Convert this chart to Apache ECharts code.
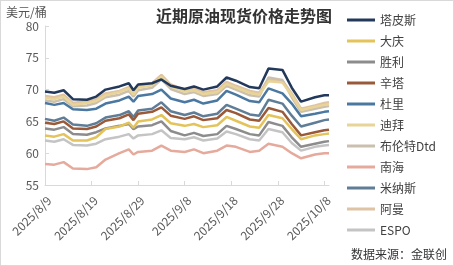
<!DOCTYPE html>
<html>
<head>
<meta charset="utf-8">
<script src="https://cdn.jsdelivr.net/npm/echarts@6/dist/echarts.min.js"></script>
<style>
  html, body { margin: 0; padding: 0; background: #fff; }
  #main { width: 452px; height: 264px; border: 1px solid #d9d9d9; }
</style>
</head>
<body>
<div id="main"></div>
<script>
// sample dates (at turning points)
const dates = ['2025-08-09', '2025-08-11', '2025-08-13', '2025-08-15', '2025-08-18', '2025-08-20', '2025-08-22',
  '2025-08-25', '2025-08-27', '2025-08-28', '2025-08-29', '2025-09-01', '2025-09-03', '2025-09-05', '2025-09-08',
  '2025-09-10', '2025-09-12', '2025-09-15', '2025-09-17', '2025-09-19', '2025-09-22', '2025-09-24', '2025-09-26',
  '2025-09-29', '2025-10-01', '2025-10-03', '2025-10-06', '2025-10-08', '2025-10-09']

const tapis = [69.7, 69.5, 69.9, 68.5, 68.4, 68.9, 70.0, 70.5, 71.0, 69.9, 70.8, 71.0, 71.6, 70.6, 70.1, 70.5, 70.0, 70.5, 71.9, 71.4, 70.4, 70.2, 73.3, 73.1, 70.3, 68.1, 68.8, 69.1, 69.1]
const daqing = [62.8, 62.6, 63.0, 62.0, 62.0, 62.5, 63.8, 64.2, 64.8, 64.0, 65.0, 65.3, 66.0, 64.7, 64.3, 64.6, 64.1, 64.4, 65.7, 65.1, 64.2, 64.0, 66.0, 65.5, 63.8, 62.2, 62.8, 63.0, 63.1]
const shengli = [63.9, 63.7, 64.1, 63.0, 62.9, 63.3, 63.9, 64.3, 64.6, 63.8, 64.2, 64.4, 65.0, 63.5, 62.8, 63.2, 62.7, 63.0, 64.3, 63.8, 63.0, 62.8, 64.9, 64.3, 62.5, 61.0, 61.5, 61.8, 61.9]
const cinta = [64.8, 64.6, 65.0, 63.9, 63.8, 64.2, 65.1, 65.5, 66.1, 65.2, 66.2, 66.5, 67.2, 65.9, 65.4, 65.8, 65.2, 65.5, 66.8, 66.3, 65.3, 65.1, 67.1, 66.5, 64.6, 62.8, 63.3, 63.6, 63.7]
const duri = [67.9, 67.6, 67.9, 66.9, 66.8, 67.0, 67.8, 68.3, 68.9, 68.1, 69.0, 69.3, 70.0, 68.6, 68.0, 68.4, 67.8, 68.3, 69.8, 69.2, 68.2, 68.0, 70.2, 69.4, 67.8, 65.8, 66.2, 66.5, 66.6]
const dubai = [68.7, 68.5, 68.9, 67.6, 67.9, 68.2, 69.1, 69.6, 70.2, 69.2, 70.3, 70.7, 72.0, 70.5, 69.7, 69.9, 69.3, 69.6, 70.9, 70.3, 69.5, 69.2, 71.3, 71.1, 69.1, 66.8, 67.3, 67.6, 67.7]
const brent = [68.3, 68.1, 68.5, 67.4, 67.5, 67.9, 68.8, 69.2, 69.8, 68.9, 69.9, 70.3, 71.6, 70.1, 69.3, 69.6, 69.0, 69.3, 70.6, 70.0, 69.1, 68.9, 71.9, 71.5, 68.8, 66.5, 67.0, 67.3, 67.4]
const nanhai = [58.3, 58.2, 58.6, 57.6, 57.5, 57.8, 59.0, 60.0, 60.6, 59.8, 60.2, 60.4, 61.2, 60.4, 60.2, 60.6, 60.0, 60.4, 61.2, 61.0, 60.2, 60.4, 61.5, 61.0, 60.0, 59.2, 59.8, 60.0, 60.0]
const minas = [65.4, 65.1, 65.6, 64.5, 64.3, 64.7, 65.6, 66.0, 66.6, 65.7, 66.7, 67.0, 68.0, 66.6, 66.0, 66.4, 65.8, 66.2, 67.6, 67.0, 66.1, 65.9, 68.4, 67.8, 65.9, 64.2, 64.8, 65.2, 65.3]
const oman = [69.0, 68.8, 69.2, 67.9, 68.2, 68.5, 69.4, 69.8, 70.4, 69.5, 70.6, 71.0, 72.3, 70.8, 70.0, 70.2, 69.6, 69.9, 71.2, 70.6, 69.8, 69.5, 71.6, 71.4, 69.4, 67.0, 67.5, 67.9, 68.0]
const espo = [62.0, 61.8, 62.2, 61.3, 61.2, 61.5, 62.2, 62.6, 63.0, 62.3, 62.8, 63.0, 63.6, 62.4, 62.2, 62.5, 62.0, 62.3, 63.4, 63.0, 62.2, 62.0, 63.8, 63.3, 61.6, 60.4, 61.0, 61.2, 61.3]

const names = ['塔皮斯', '大庆', '胜利', '辛塔', '杜里', '迪拜', '布伦特Dtd', '南海', '米纳斯', '阿曼', 'ESPO']
const values = [tapis, daqing, shengli, cinta, duri, dubai, brent, nanhai, minas, oman, espo]
const colors = ['#23395b', '#e3c35a', '#8c8c8c', '#9a5a3a', '#4b78a0', '#e8d496', '#cbbfae', '#e5aa9c', '#5f7d96', '#dfc3a3', '#c4c4c4']

const start = Date.UTC(2025, 7, 9)
function dayIndex(s) {
  const [y, m, d] = s.split('-').map(Number)
  return (Date.UTC(y, m - 1, d) - start) / 86400000
}

const chart = echarts.init(document.getElementById('main'))
const series = values.map((arr, i) => {
  return {
    name: names[i],
    type: 'line',
    data: arr.map((v, j) => [dayIndex(dates[j]), v]),
    showSymbol: false,
    color: colors[i],
    lineStyle: { width: 2.5 },
    z: 20 - i
  }
})

chart.setOption({
  animation: false,
  textStyle: { fontFamily: '"Noto Sans CJK SC", "Noto Sans", sans-serif' },
  title: {
    text: '近期原油现货价格走势图',
    left: 150,
    top: 2,
    textStyle: { fontSize: 16, fontWeight: 'bold', color: '#333' }
  },
  graphic: [
    { type: 'text', left: 5, top: 5, style: { text: '美元/桶', fontSize: 12, fill: '#555', fontFamily: '"Noto Sans CJK SC", sans-serif' } },
    { type: 'text', right: 6, bottom: 5, style: { text: '数据来源：金联创', fontSize: 12, fill: '#333', fontFamily: '"Noto Sans CJK SC", sans-serif' } }
  ],
  legend: {
    orient: 'vertical',
    left: 341,
    top: 7,
    icon: 'rect',
    itemWidth: 28,
    itemHeight: 3,
    itemGap: 7,
    textStyle: { fontSize: 12, color: '#404040', lineHeight: 14 },
    data: names
  },
  grid: { left: 44, right: 124, top: 25, bottom: 80 },
  xAxis: {
    type: 'value',
    min: 0,
    max: 61,
    interval: 10,
    splitLine: { show: false },
    axisLine: { lineStyle: { color: '#d9d9d9' } },
    axisTick: { inside: true, length: 4, lineStyle: { color: '#d9d9d9' } },
    axisLabel: {
      rotate: 45,
      fontSize: 12,
      color: '#595959',
      margin: 9,
      verticalAlign: 'top',
      showMaxLabel: false,
      formatter: v => {
        const t = new Date(start + v * 86400000)
        return t.getUTCFullYear() + '/' + (t.getUTCMonth() + 1) + '/' + t.getUTCDate()
      }
    }
  },
  yAxis: {
    type: 'value',
    min: 55,
    max: 80,
    interval: 5,
    splitLine: { show: false },
    axisLine: { show: true, lineStyle: { color: '#d9d9d9' } },
    axisTick: { show: true, inside: true, length: 4, lineStyle: { color: '#d9d9d9' } },
    axisLabel: { fontSize: 12, color: '#595959', margin: 6 }
  },
  series: series
})
</script>
</body>
</html>
